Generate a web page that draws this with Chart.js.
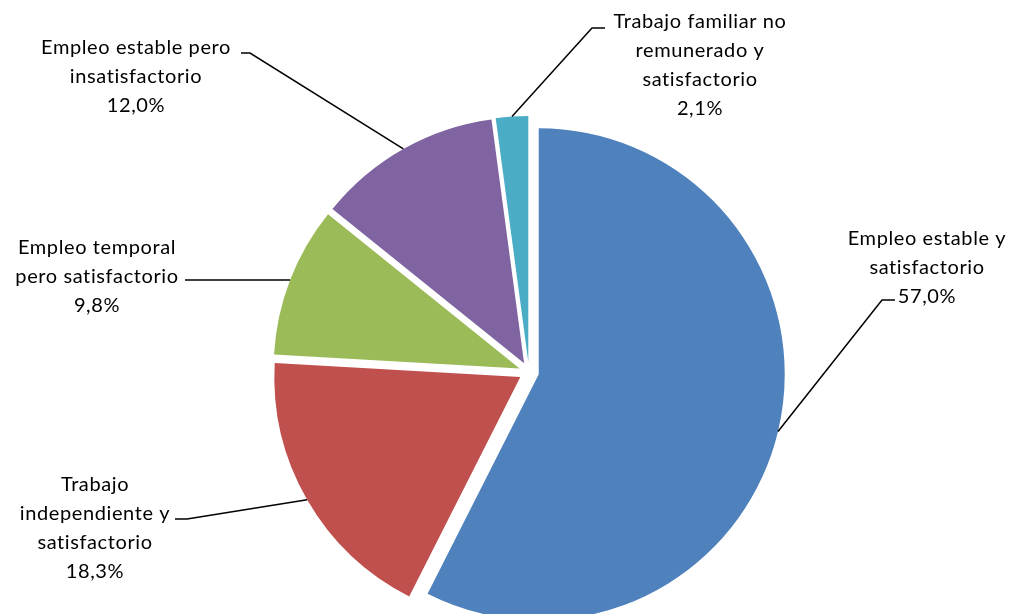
<!DOCTYPE html>
<html>
<head>
<meta charset="utf-8">
<script src="https://cdn.jsdelivr.net/npm/chart.js@4.4.1/dist/chart.umd.min.js"></script>
<style>
  html, body { margin: 0; padding: 0; background: #fff; }
  #wrap { width: 1011px; height: 614px; }
</style>
</head>
<body>
<div id="wrap"><canvas id="myChart" width="1011" height="614"></canvas></div>
<script>
const categories = [
  "Empleo estable y satisfactorio",
  "Trabajo independiente y satisfactorio",
  "Empleo temporal pero satisfactorio",
  "Empleo estable pero insatisfactorio",
  "Trabajo familiar no remunerado y satisfactorio"
];
const shares = [57.0, 18.3, 9.8, 12.0, 2.1];
const labelLines = [
  ["Empleo estable y", "satisfactorio"],
  ["Trabajo", "independiente y", "satisfactorio"],
  ["Empleo temporal", "pero satisfactorio"],
  ["Empleo estable pero", "insatisfactorio"],
  ["Trabajo familiar no", "remunerado y", "satisfactorio"]
];
const colors = ["#4F81BD", "#C0504D", "#9BBB59", "#8064A2", "#4BACC6"];

const EXPLODE = 10; // px each slice is pulled out

// label placement and leader line bend points
const labelPos = [
  { x: 927, y: 239, elbow: [882, 300], tick: [895, 300] },
  { x: 95,  y: 485, elbow: [187, 519], tick: [175, 519] },
  { x: 97,  y: 248, elbow: [195, 280], tick: [185, 280] },
  { x: 136, y: 48,  elbow: [250, 53],  tick: [241, 53] },
  { x: 700, y: 22,  elbow: [592, 28],  tick: [605, 28] }
];

const fmt = v => v.toFixed(1).replace(".", ",") + "%";

// pull each slice outward along its middle angle (the built-in offset also grows the radius)
const explode = {
  id: "explode",
  afterDatasetUpdate(chart) {
    chart.getDatasetMeta(0).data.forEach(arc => {
      const mid = (arc.startAngle + arc.endAngle) / 2;
      arc.x += Math.cos(mid) * EXPLODE;
      arc.y += Math.sin(mid) * EXPLODE;
    });
  }
};

const leaderLabels = {
  id: "leaderLabels",
  afterDraw(chart) {
    const ctx = chart.ctx;
    const meta = chart.getDatasetMeta(0);
    ctx.save();
    ctx.font = "20px Lato";
    if ("letterSpacing" in ctx) ctx.letterSpacing = "0.6px";
    ctx.fillStyle = "#000";
    ctx.textAlign = "center";
    ctx.textBaseline = "middle";
    ctx.strokeStyle = "#000";
    ctx.lineWidth = 1.5;
    meta.data.forEach((arc, i) => {
      const lp = labelPos[i];
      const a = (arc.startAngle + arc.endAngle) / 2;
      const ax = arc.x + Math.cos(a) * arc.outerRadius;
      const ay = arc.y + Math.sin(a) * arc.outerRadius;
      ctx.beginPath();
      ctx.moveTo(ax, ay);
      ctx.lineTo(lp.elbow[0], lp.elbow[1]);
      ctx.lineTo(lp.tick[0], lp.tick[1]);
      ctx.stroke();
      const lines = labelLines[i].concat([fmt(shares[i])]);
      lines.forEach((t, k) => ctx.fillText(t, lp.x, lp.y + k * 29));
    });
    ctx.restore();
  }
};

new Chart(document.getElementById("myChart"), {
  type: "pie",
  data: {
    labels: categories,
    datasets: [{
      data: shares,
      backgroundColor: colors,
      borderWidth: 0
    }]
  },
  options: {
    responsive: false,
    animation: false,
    devicePixelRatio: 1,
    radius: 246,
    layout: { padding: { top: 130, left: 47, right: 0, bottom: 0 } },
    plugins: {
      legend: { display: false },
      tooltip: { enabled: false },
      title: { display: false }
    }
  },
  plugins: [explode, leaderLabels]
});
</script>
</body>
</html>
